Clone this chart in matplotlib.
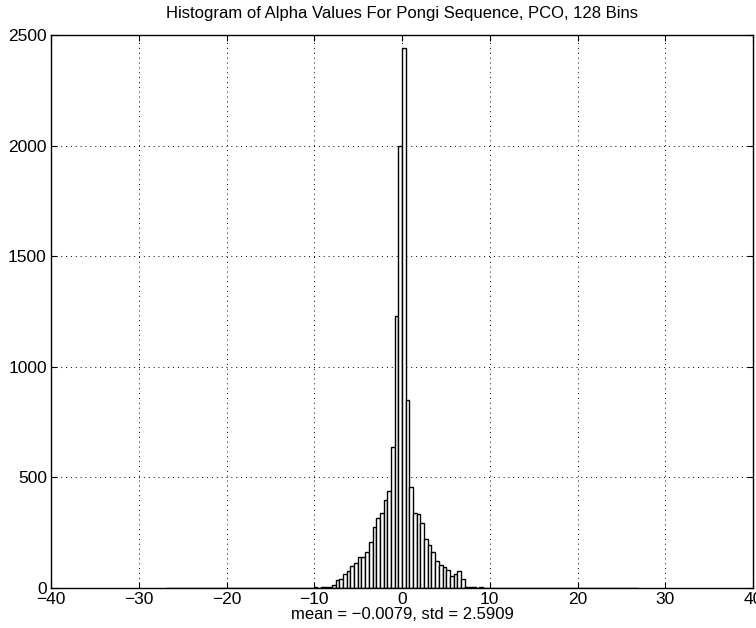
import numpy as np
import matplotlib
matplotlib.use("Agg")
import matplotlib.pyplot as plt

plt.rcParams['font.family'] = ['Liberation Sans', 'DejaVu Sans']

title = "Histogram of Alpha Values For Pongi Sequence, PCO, 128 Bins"
xlabel = "mean = \u22120.0079, std = 2.5909"

n_bins = 128
data_min = -26.88
data_max = 26.88

# counts per bin, left tail -> center -> right tail
left_tail = [0, 0, 1, 0, 0, 0, 0, 1, 0, 0, 0, 0, 0, 1, 0, 0, 0, 0, 0, 1,
             0, 0, 0, 1, 0, 0, 0, 0, 1, 0, 0, 1, 0, 1, 1, 0, 2, 1, 2, 2,
             3, 2, 3, 4]
left_core = [4, 12, 38, 42, 65, 75, 100, 115, 140, 142, 165, 208, 275, 315,
             340, 400, 440, 637, 1231, 2000]
peak = [2440]
right_core = [849, 455, 340, 334, 292, 222, 195, 165, 120, 103, 97, 82, 55,
              65, 78, 40, 6]
right_tail = [4, 3, 2, 3, 2, 1, 1, 2, 1, 0, 1, 0, 1, 0, 0, 1, 0, 0, 0, 0,
              1, 0, 0, 0, 0, 0, 1, 0, 0, 0, 0, 0, 0, 1, 0, 0, 0, 0, 0, 0,
              0, 0, 0, 0, 0, 0]

counts = np.array(left_tail + left_core + peak + right_core + right_tail, dtype=float)
counts = counts[:n_bins]
edges = np.linspace(data_min, data_max, n_bins + 1)

xticks = [-40, -30, -20, -10, 0, 10, 20, 30, 40]
yticks = [0, 500, 1000, 1500, 2000, 2500]

fig = plt.figure(figsize=(7.56, 6.28), dpi=100)
ax = fig.add_axes([51 / 756, 1 - 588 / 628, 702 / 756, 553 / 628])

ax.bar(edges[:-1], counts, width=np.diff(edges), align='edge',
       facecolor='white', edgecolor='black', linewidth=1.0, zorder=2)

ax.set_xlim(-40, 40)
ax.set_ylim(0, 2500)
ax.set_xticks(xticks)
ax.set_yticks(yticks)
ax.grid(True, color='black', linestyle=(0, (1, 4)), linewidth=0.7, zorder=0)
ax.set_axisbelow(True)
ax.tick_params(direction='in', top=True, right=True, length=4, labelsize=12.5,
               pad=3)
for s in ax.spines.values():
    s.set_linewidth(1.0)
    s.set_color('black')

ax.set_title(title, fontsize=12, pad=12)
ax.set_xlabel(xlabel, fontsize=12, labelpad=0)

fig.savefig("out.png", dpi=100)
